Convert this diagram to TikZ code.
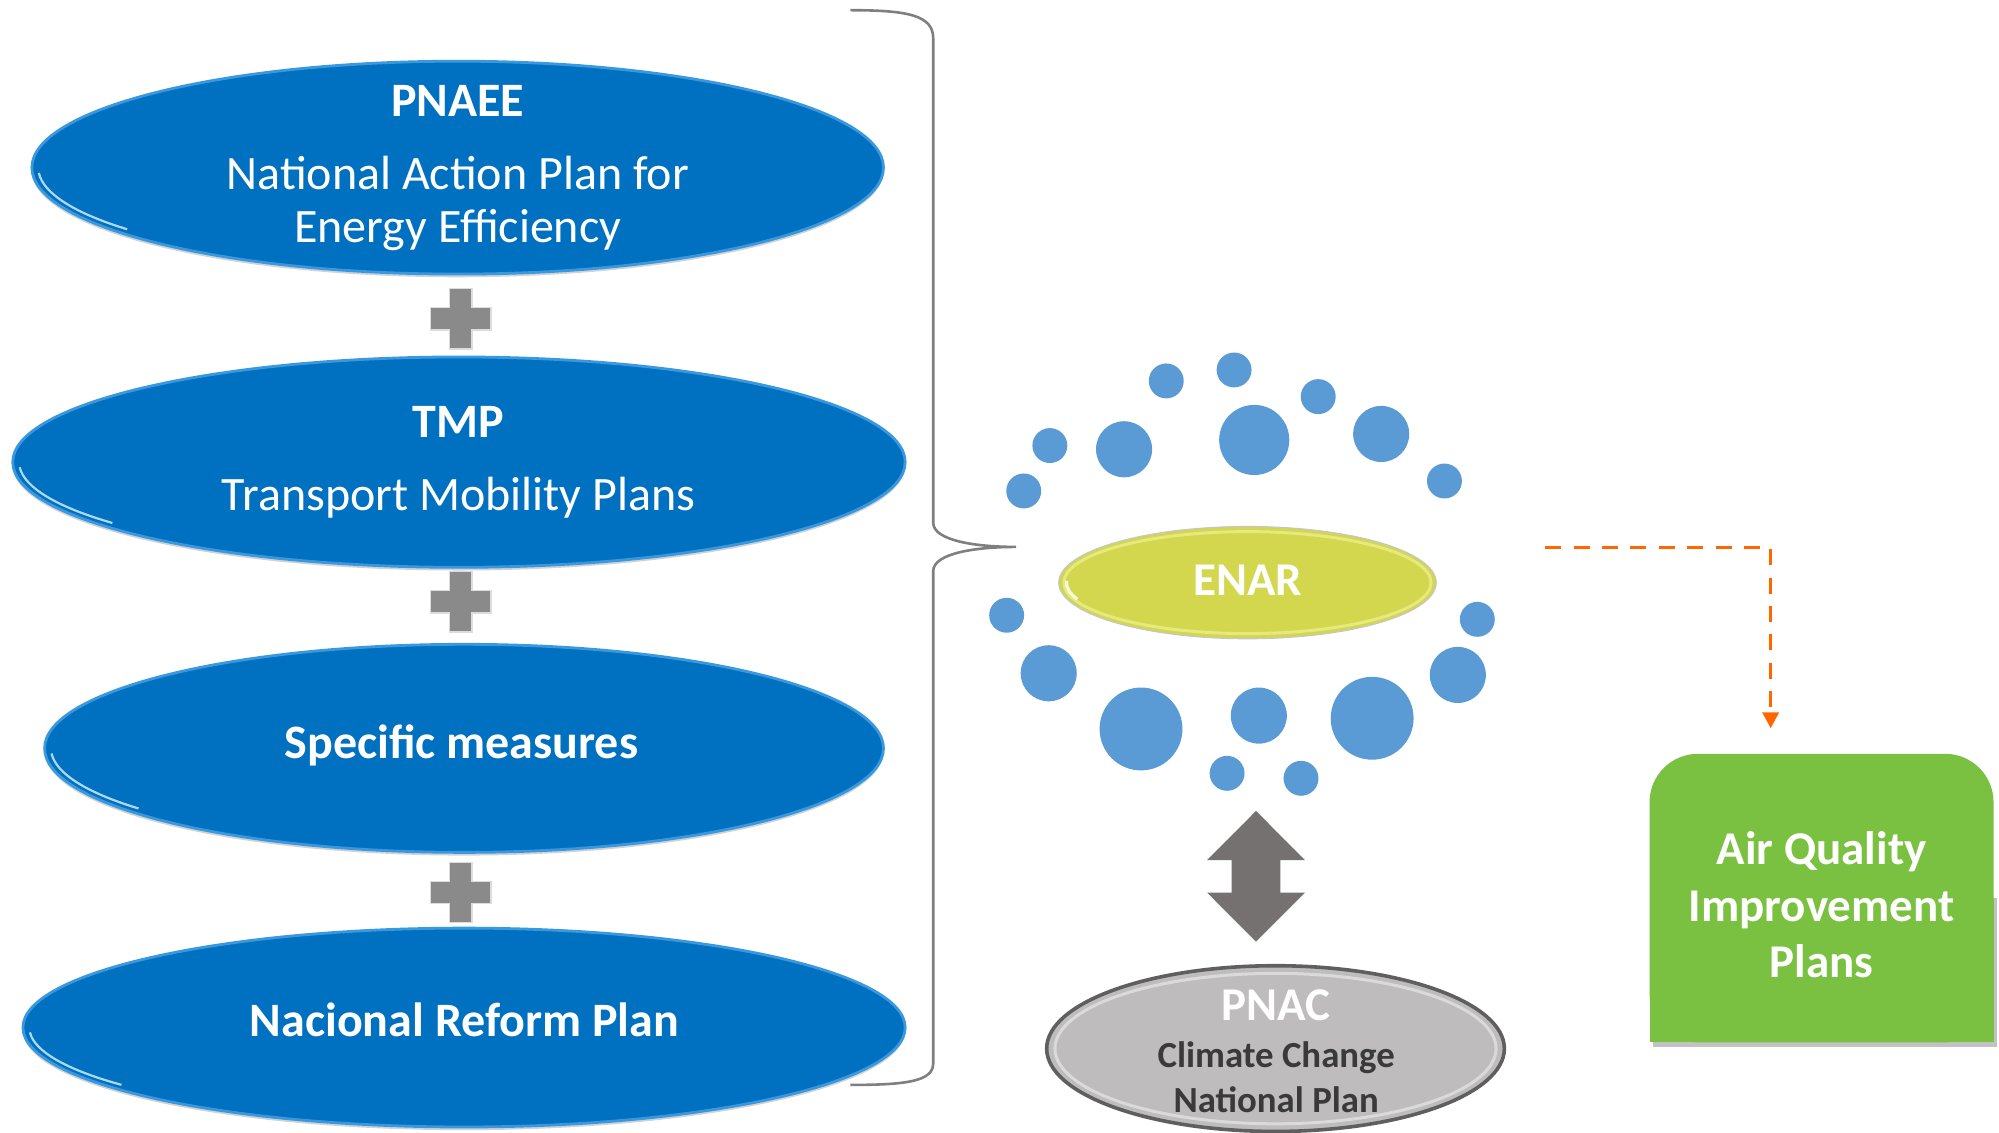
\documentclass[tikz,border=0pt]{standalone}
\usepackage{fontspec}
\setmainfont{Carlito}
\usetikzlibrary{shapes.geometric,arrows.meta,calc}
\definecolor{eblue}{HTML}{0070C0}
\definecolor{rimblue}{HTML}{3A98DE}
\definecolor{hilite}{HTML}{CDEBFB}
\definecolor{dotblue}{HTML}{5B9BD5}
\definecolor{enaryel}{HTML}{D3D74E}
\definecolor{enarrim}{HTML}{E6E97E}
\definecolor{pnacfill}{HTML}{BEBCBD}
\definecolor{pnacedge}{HTML}{5F5F5F}
\definecolor{pnactext}{HTML}{3A3A3A}
\definecolor{arrgray}{HTML}{767171}
\definecolor{plusgray}{HTML}{8A8A8A}
\definecolor{aqgreen}{HTML}{7AC142}
\definecolor{dashor}{HTML}{FF6600}
\definecolor{bracegray}{HTML}{7F7F7F}
\begin{document}
\begin{tikzpicture}[x=0.6375pt, y=-0.6375pt,
  ell/.style 2 args={ellipse, inner sep=0pt, minimum width={#1*1.275pt}, minimum height={#2*1.275pt}},
  blueell/.style={fill=eblue, draw=rimblue, line width=1.4pt},
  wtxt/.style={text=white, inner sep=0pt, anchor=base, font=\fontsize{24}{28}\selectfont},
  wbold/.style={text=white, inner sep=0pt, anchor=base, font=\fontsize{24}{28}\selectfont\bfseries},
  gbold/.style={text=pnactext, inner sep=0pt, anchor=base, font=\fontsize{18.4}{22}\selectfont\bfseries},
  plusshape/.style={fill=plusgray, draw=white!70!plusgray, line width=0.7pt},
  dotstyle/.style={fill=dotblue},
  dashconn/.style={dashor, line width=1.8pt, dash pattern=on 8pt off 6.2pt, -{Triangle[width=8pt,length=8pt]}}
]
\useasboundingbox (0,0) rectangle (1568,888);

% brace
\draw[bracegray, line width=1.3pt] (667,8) .. controls (712,8) and (732,12) .. (732,30) -- (732,410)
  .. controls (732,424) and (765,429) .. (797,429)
  .. controls (765,429) and (732,434) .. (732,448) -- (732,834)
  .. controls (732,848) and (712,851) .. (667,851);

% blue ellipses
\foreach \n/\cx/\cy/\rx/\ry in {1/359/131.5/334/83.5, 2/360/362.5/350/82.5, 3/364/587/329/81.6, 4/364/806/346/78}{
  \fill[black!35, opacity=0.5] (\cx,\cy+2.5) ellipse [x radius=\rx, y radius=\ry];
  \node[ell={\rx}{\ry}, blueell] (e\n) at (\cx,\cy) {};
  \draw[hilite, opacity=0.85, line width=1.1pt] (\cx,\cy) ++(142:{\rx-5} and {\ry-5}) arc[start angle=142, end angle=177, x radius=\rx-5, y radius=\ry-5];
}

% plus signs
\foreach \n/\py in {1/250, 2/472, 3/700}{
  \path[plusshape] (361.4,\py) ++(-8.7,-23.7) -- ++(17.4,0) -- ++(0,15) -- ++(15,0) -- ++(0,17.4) -- ++(-15,0) -- ++(0,15) -- ++(-17.4,0) -- ++(0,-15) -- ++(-15,0) -- ++(0,-17.4) -- ++(15,0) -- cycle;
}

% texts in blue ellipses
\node[wbold] (t1) at (359,91.5) {PNAEE};
\node[wtxt] (t1b) at (359,149) {National Action Plan for};
\node[wtxt] (t1c) at (359,190) {Energy Efficiency};
\node[wbold] (t2) at (359.7,343) {TMP};
\node[wtxt] (t2b) at (359.7,400.5) {Transport Mobility Plans};
\node[wbold] (t3) at (362,595) {Specific measures};
\node[wbold] (t4) at (364.4,813) {Nacional Reform Plan};

% dots
\foreach \x/\y/\r in {914.8/298.8/13.7, 968/290.2/13.7, 1034/311.1/13.7, 823.5/349.5/13.7, 881.7/352.4/22, 983.8/345.1/27.5, 1083.4/340.4/22, 803/385.1/13.7, 1133/377.3/13.7, 789.6/482.6/13.7, 1158.8/485.8/13.7, 822.6/528.1/22, 895/571.8/32.5, 987.4/561.3/22, 1076.3/563.4/32.5, 1143.5/529.4/22, 962.5/606.6/13.7, 1020.5/610.5/13.7}
  \fill[dotstyle] (\x,\y) circle [radius=\r];

% ENAR
\node[ell={148}{44}, fill=enaryel, draw=gray!45, line width=0.6pt] (enar) at (978.5,457) {};
\draw[enarrim, line width=1.5pt] (978.5,457) ellipse [x radius=144, y radius=40];
\draw[white, opacity=0.8, line width=1.6pt] (978.5,457) ++(160:142 and 38) arc[start angle=160, end angle=182, x radius=142, y radius=38];
\node[wbold, font=\fontsize{23.5}{28}\selectfont\bfseries] (enart) at (978.6,467.2) {ENAR};

% double arrow
\fill[arrgray] (985.2,636.1) -- (1023.5,674.6) -- (1004.3,674.6) -- (1004.3,700.2) -- (1023.5,700.2) -- (985.2,738.6) -- (946.9,700.2) -- (966.1,700.2) -- (966.1,674.6) -- (946.9,674.6) -- cycle;

% PNAC
\node[ell={179.5}{65}, fill=pnacfill, draw=pnacedge, line width=1.8pt] (pnac) at (1000.5,822.5) {};
\draw[white, opacity=0.45, line width=1.5pt] (1000.5,822.5) ellipse [x radius=173, y radius=59];
\node[wbold, font=\fontsize{23.5}{28}\selectfont\bfseries] (pnact) at (1001,800.6) {PNAC};
\node[gbold] (pnacb) at (1001,837.2) {Climate Change};
\node[gbold] (pnacc) at (1001,872.7) {National Plan};

% Air quality box
\node[rectangle, inner sep=0pt, minimum width={269.2*0.6375pt}, minimum height={225.7*0.6375pt}] (aq) at (1428.8,704.45) {};
\fill[black!40, opacity=0.6] ($(aq.south west)+(3,4)$) rectangle ($(aq.east)+(3,0)$);
\fill[aqgreen, rounded corners=24.2pt] (aq.south west) rectangle (aq.north east);
\fill[aqgreen] (aq.south west) rectangle (aq.east);
\node[wbold, font=\fontsize{23.5}{28}\selectfont\bfseries] (aq1) at (1428.9,678) {Air Quality};
\node[wbold, font=\fontsize{23.5}{28}\selectfont\bfseries] (aq2) at (1428.9,722.7) {Improvement};
\node[wbold, font=\fontsize{23.5}{28}\selectfont\bfseries] (aq3) at (1428.9,767) {Plans};

% dashed connector
\coordinate (dstart) at (1212,429.5);
\draw[dashconn] (dstart) -| ($(aq.north west)+(95,-20)$);
\end{tikzpicture}
\end{document}
